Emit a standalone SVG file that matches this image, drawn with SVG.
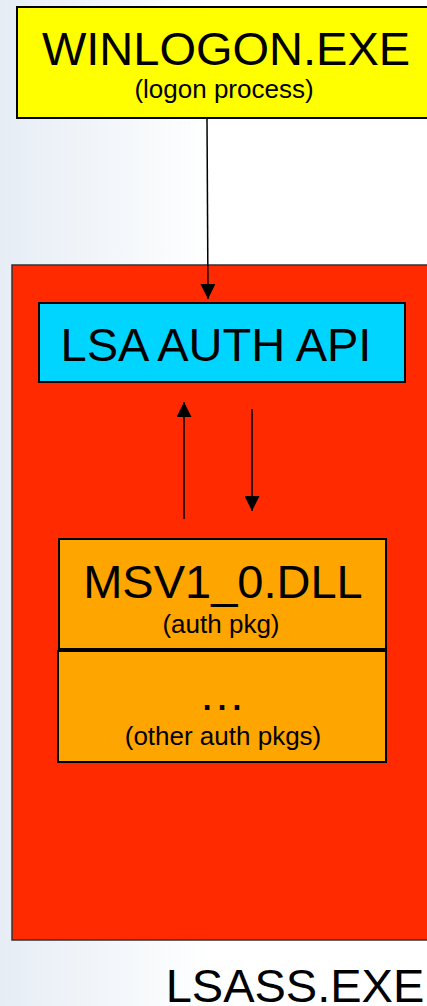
<svg xmlns="http://www.w3.org/2000/svg" width="427" height="1006" viewBox="0 0 427 1006">
<defs>
<linearGradient id="bg" x1="0" y1="0" x2="1" y2="0">
<stop offset="0" stop-color="#e6edf5"/>
<stop offset="0.5" stop-color="#ffffff"/>
<stop offset="1" stop-color="#ffffff"/>
</linearGradient>
<marker id="ah" viewBox="0 0 10 10" refX="10" refY="5" markerWidth="10" markerHeight="10" markerUnits="strokeWidth" orient="auto">
<path d="M0,0 L10,5 L0,10 z" fill="#000"/>
</marker>
<style>
text{font-family:"Liberation Sans",Arial,sans-serif;fill:#000;text-anchor:middle}
.big{font-size:47px}
.small{font-size:26px}
.box{stroke:#000;stroke-width:2}
.conn{stroke:#000;stroke-width:1.5;fill:none;marker-end:url(#ah)}
</style>
</defs>
<rect x="0" y="0" width="427" height="1006" fill="url(#bg)"/>
<g id="lsass">
<rect x="12" y="265" width="430" height="675" fill="#ff2a00" stroke="#333" stroke-width="1.5"/>
<text class="big" x="295" y="1002">LSASS.EXE</text>
</g>
<g id="winlogon">
<rect class="box" x="17" y="7" width="430" height="111" fill="#ffff00"/>
<text class="big" x="226" y="65">WINLOGON.EXE</text>
<text class="small" x="224" y="98">(logon process)</text>
</g>
<g id="lsa-auth-api">
<rect class="box" x="39" y="303" width="366" height="79" fill="#00d5ff"/>
<text class="big" x="216" y="361">LSA AUTH API</text>
</g>
<g id="msv">
<rect class="box" x="59" y="539" width="327" height="110" fill="#ffa500"/>
<text class="big" x="223" y="598">MSV1_0.DLL</text>
<text class="small" x="221" y="633">(auth pkg)</text>
</g>
<g id="other">
<rect class="box" x="58" y="651" width="328" height="111" fill="#ffa500"/>
<text class="big" x="222" y="710">…</text>
<text class="small" x="223" y="745">(other auth pkgs)</text>
</g>
<g id="connectors">
<line class="conn" x1="207" y1="118" x2="208" y2="299"/>
<line class="conn" x1="184" y1="519" x2="184" y2="402"/>
<line class="conn" x1="252" y1="409" x2="252" y2="511"/>
</g>
</svg>
